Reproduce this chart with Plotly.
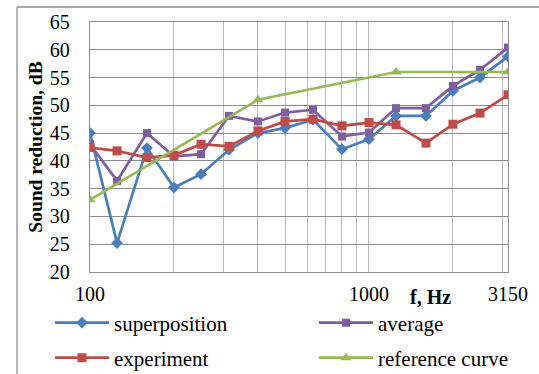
import plotly.graph_objects as go

freqs = [100, 125, 160, 200, 250, 315, 400, 500, 630, 800, 1000, 1250, 1600, 2000, 2500, 3150]
superposition = [45.0, 25.2, 42.3, 35.2, 37.6, 42.0, 45.0, 45.9, 47.4, 42.1, 43.9, 48.1, 48.1, 52.6, 55.0, 58.8]
average = [43.0, 36.4, 45.0, 40.8, 41.2, 48.1, 47.1, 48.7, 49.2, 44.4, 45.1, 49.5, 49.5, 53.5, 56.4, 60.4]
experiment = [42.4, 41.8, 40.6, 41.0, 43.0, 42.6, 45.4, 47.1, 47.5, 46.3, 46.9, 46.5, 43.2, 46.6, 48.6, 51.9]
ref_freqs = [100, 400, 1250, 3150]
ref_curve = [33, 51, 56, 56]

grid_vals = [100, 200, 300, 400, 500, 600, 700, 800, 900, 1000, 2000, 3000, 3150]
grid_text = ["100", "", "", "", "", "", "", "", "", "1000", "", "", "3150"]
y_ticks = [20, 25, 30, 35, 40, 45, 50, 55, 60, 65]

FONT = "Liberation Serif, Times New Roman, serif"
FS = 20
BLUE = "#4A7EBB"
RED = "#BE4B48"
PURPLE = "#7D5FA0"
GREEN = "#98B954"

fig = go.Figure()
fig.add_trace(go.Scatter(x=freqs, y=superposition, name="superposition", mode="lines+markers",
                         line=dict(color=BLUE, width=2.7), marker=dict(symbol="diamond", size=9, color=BLUE),
                         legend="legend", showlegend=True))
fig.add_trace(go.Scatter(x=freqs, y=average, name="average", mode="lines+markers",
                         line=dict(color=PURPLE, width=2.7), marker=dict(symbol="square", size=8, color=PURPLE),
                         legend="legend2", showlegend=True))
fig.add_trace(go.Scatter(x=freqs, y=experiment, name="experiment", mode="lines+markers",
                         line=dict(color=RED, width=2.7), marker=dict(symbol="square", size=9, color=RED),
                         legend="legend3", showlegend=True))
fig.add_trace(go.Scatter(x=ref_freqs, y=ref_curve, name="reference curve", mode="lines+markers",
                         line=dict(color=GREEN, width=2.7), marker=dict(symbol="triangle-up", size=10, color=GREEN),
                         legend="legend4", showlegend=True))

legend_common = dict(orientation="h", xanchor="left", yanchor="middle",
                     font=dict(family=FONT, size=21, color="black"), bgcolor="rgba(0,0,0,0)",
                     itemwidth=54)

col1 = (50 - 90) / 418
col2 = (314 - 90) / 418
row1 = (272 - 323) / 250
row2 = (272 - 358) / 250

fig.update_layout(
    width=539, height=374,
    showlegend=True,
    margin=dict(l=90, r=31, t=22, b=102, autoexpand=False),
    paper_bgcolor="white", plot_bgcolor="white",
    font=dict(family=FONT, size=FS, color="black"),
    legend=dict(x=col1, y=row1, **legend_common),
    legend2=dict(x=col2, y=row1, **legend_common),
    legend3=dict(x=col1, y=row2, **legend_common),
    legend4=dict(x=col2, y=row2, **legend_common),
    xaxis=dict(type="log", range=[2, 3.4983], tickmode="array", tickvals=grid_vals, ticktext=grid_text,
               showgrid=True, gridcolor="#B8B8B8", gridwidth=1.3, showline=True, mirror=True,
               linecolor="#8C8C8C", linewidth=1.3, ticks="", ticklabelstandoff=4,
               tickfont=dict(family=FONT, size=FS, color="black"), zeroline=False),
    yaxis=dict(range=[20, 65], tickmode="array", tickvals=y_ticks, showgrid=True, gridcolor="#8C8C8C",
               gridwidth=1.3, showline=True, mirror=True, linecolor="#8C8C8C", linewidth=1.3, ticks="",
               ticklabelstandoff=15, tickfont=dict(family=FONT, size=FS, color="black"), zeroline=False,
               title=dict(text="<b>Sound reduction, dB</b>", font=dict(family=FONT, size=19.5, color="black"),
                          standoff=2)),
    annotations=[dict(text="<b>f, Hz</b>", xref="paper", yref="paper", x=(430 - 90) / 418, y=(272 - 297) / 250,
                      xanchor="center", yanchor="middle", showarrow=False,
                      font=dict(family=FONT, size=FS, color="black"))],
    shapes=[
        dict(type="line", xref="paper", yref="paper", x0=(17 - 90) / 418, x1=(545 - 90) / 418,
             y0=(272 - 7) / 250, y1=(272 - 7) / 250, line=dict(color="#8C8C8C", width=1.3)),
        dict(type="line", xref="paper", yref="paper", x0=(17 - 90) / 418, x1=(17 - 90) / 418,
             y0=(272 - 7) / 250, y1=(272 - 380) / 250, line=dict(color="#8C8C8C", width=1.3)),
    ],
)

fig.write_html("out.html")
